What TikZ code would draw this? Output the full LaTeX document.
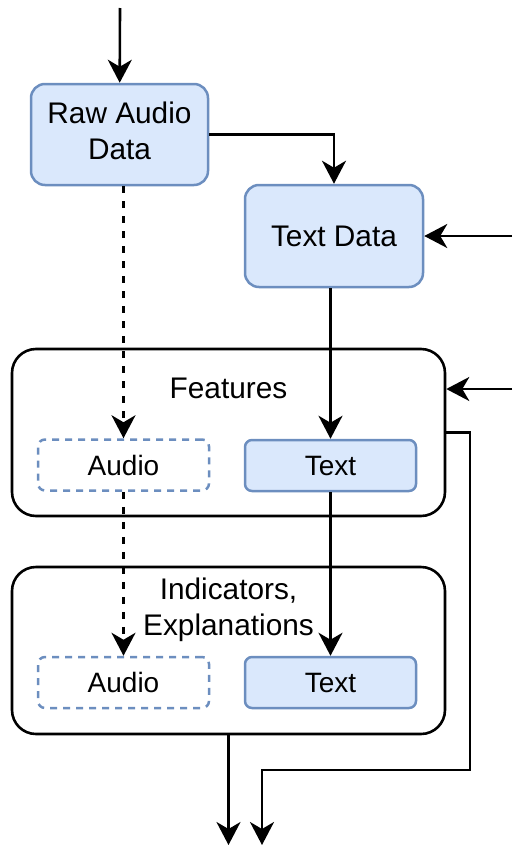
\documentclass[tikz,border=0pt]{standalone}
\usepackage{fontspec}
\setmainfont{Liberation Sans}
\usetikzlibrary{arrows.meta}
\definecolor{boxfill}{HTML}{DAE8FC}
\definecolor{boxline}{HTML}{6C8EBF}
\tikzset{
  databox/.style={draw=boxline, fill=boxfill, line width=2.5pt, rounded corners=14pt,
    align=center, inner sep=0pt, font=\fontsize{29.8}{36}\selectfont},
  featbox/.style={draw=boxline, fill=boxfill, line width=2.5pt, rounded corners=7pt,
    minimum width=171pt, minimum height=51pt, inner sep=0pt, font=\fontsize{28}{32}\selectfont},
  audiobox/.style={featbox, fill=none, dash pattern=on 7pt off 6pt},
  group/.style={draw=black, line width=2.6pt, rounded corners=24pt,
    minimum width=433pt, minimum height=167pt, inner sep=0pt},
  grouplabel/.style={align=center, inner sep=0pt, font=\fontsize{29.8}{36}\selectfont},
  arr/.style={line width=2.6pt, -{Stealth[length=23pt, width=24pt, inset=7pt]}},
  dasharr/.style={arr, dash pattern=on 7pt off 8pt}
}
\begin{document}
\begin{tikzpicture}[x=1pt, y=-1pt]
\useasboundingbox (0,0) rectangle (512,846);

\node[databox, minimum width=177pt, minimum height=101pt, text depth=8pt] (rawaudio) at (119.5,134.5) {Raw Audio\\Data};
\node[databox, minimum width=178pt, minimum height=102pt] (textdata) at (334,236) {Text Data};

\node[group] (features) at (228.5,432.5) {};
\node[grouplabel, anchor=base] (featlabel) at (228.5,398) {Features};
\node[audiobox] (feataudio) at (123.5,465) {Audio};
\node[featbox] (feattext) at (330.5,465.5) {Text};

\node[group] (indic) at (228.5,650.5) {};
\node[grouplabel] (indiclabel) at (228.5,610) {Indicators,\\Explanations};
\node[audiobox] (indaudio) at (123.5,682.5) {Audio};
\node[featbox] (indtext) at (330.5,682.5) {Text};

\coordinate (intop) at (120,8);
\coordinate (intext) at (512,236);
\coordinate (infeat) at (512,389);
\coordinate (bend) at (470,770);
\coordinate (outa) at (228.5,845);
\coordinate (outb) at (262,845);

\draw[arr] (intop) -- (rawaudio);
\draw[arr] (rawaudio.east) -| (textdata.north);
\draw[arr] (intext) -- (textdata.east);
\draw[arr] (feattext.north |- textdata.south) -- (feattext.north);
\draw[dasharr] (feataudio.north |- rawaudio.south) -- (feataudio.north);
\draw[arr] (infeat) -- (features.east |- infeat);
\draw[arr] (feattext) -- (indtext);
\draw[dasharr] (feataudio) -- (indaudio);
\draw[arr] (features.east) -| (bend) -| (outb);
\draw[arr] (indic.south) -- (outa);
\end{tikzpicture}
\end{document}
